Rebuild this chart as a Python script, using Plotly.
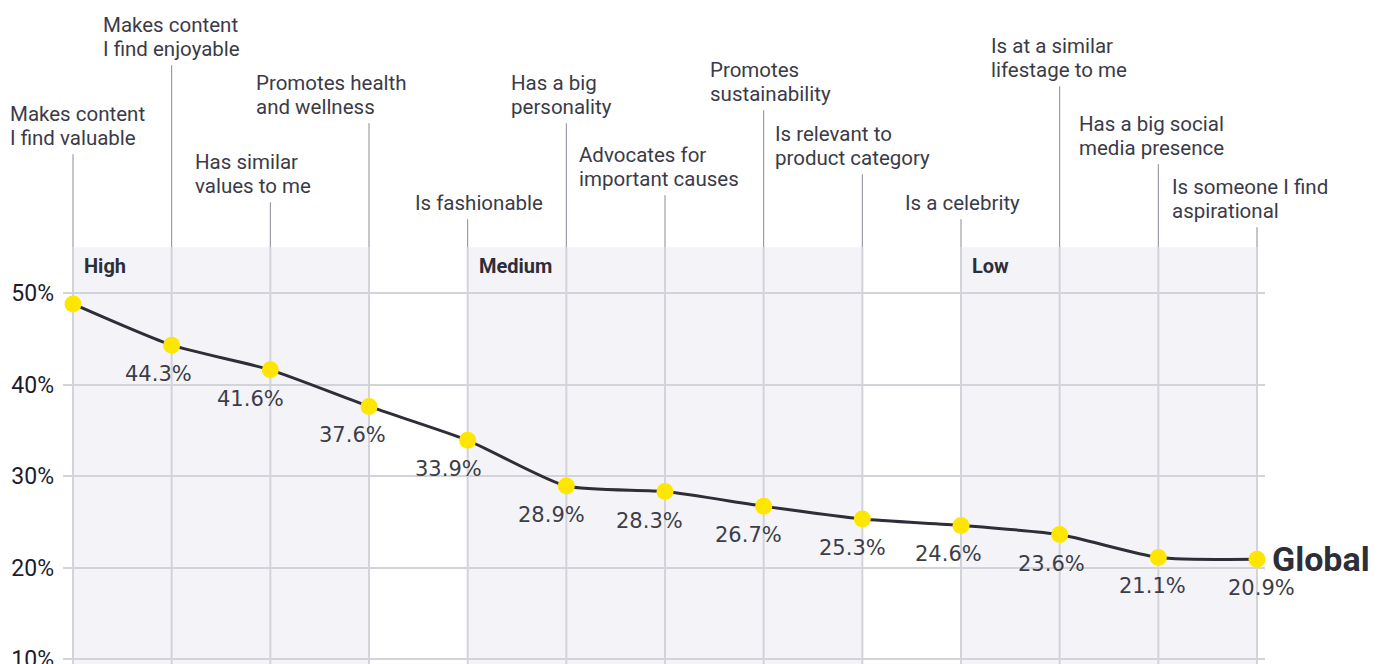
import plotly.graph_objects as go

# Attributes, ordered by share of respondents
attributes = [
    "Makes content<br>I find valuable",
    "Makes content<br>I find enjoyable",
    "Has similar<br>values to me",
    "Promotes health<br>and wellness",
    "Is fashionable",
    "Has a big<br>personality",
    "Advocates for<br>important causes",
    "Promotes<br>sustainability",
    "Is relevant to<br>product category",
    "Is a celebrity",
    "Is at a similar<br>lifestage to me",
    "Has a big social<br>media presence",
    "Is someone I find<br>aspirational",
]
global_share = [48.8, 44.3, 41.6, 37.6, 33.9, 28.9, 28.3, 26.7, 25.3, 24.6, 23.6, 21.1, 20.9]

tier_names = ["High", "Medium", "Low"]
tier_first = [0, 4, 9]
tier_last = [3, 8, 12]

y_ticks = [10, 20, 30, 40, 50]

# ---- layout constants ----
W, H = 1390, 664
PX_PER_PCT = 9.15
Y_MIN, Y_MAX = 9.454, 82.02
BAND_TOP = 55
X_MIN, X_MAX = -0.1014, 12.081
LINE_GAP = 24  # px between label lines

# leader line length above the band (px) and label x offset (px)
leader_px = [93, 182, 45, 124, 28, 124, 52, 137, 73, 28, 161, 83, 20]
label_dx = [-65, -71, -77, -115, -55, -57, -88, -56, -89, -58, -71, -81, -87]
value_dx = [0, -13, -20, -17, -19, -15, -16, -15, -10, -13, -8, -6, 4]

INK = "#2e2e38"
TEXT = "#3b3b48"
GRID = "#d3d3da"
BAND = "#f4f4f8"
YELLOW = "#ffe600"

fig = go.Figure()

fig.add_trace(go.Scatter(
    x=list(range(len(global_share))),
    y=global_share,
    mode="lines+markers",
    line=dict(color=INK, width=3, shape="spline", smoothing=0.6),
    marker=dict(color=YELLOW, size=17, line=dict(width=0)),
    hoverinfo="skip",
    showlegend=False,
    cliponaxis=False,
))

shapes = []
annotations = []

# shaded tier bands
for name, a, b in zip(tier_names, tier_first, tier_last):
    shapes.append(dict(type="rect", xref="x", yref="y", x0=a, x1=b,
                       y0=Y_MIN, y1=BAND_TOP, fillcolor=BAND,
                       line=dict(width=0), layer="below"))
    annotations.append(dict(x=a, y=BAND_TOP, xref="x", yref="y",
                            text="<b>%s</b>" % name, showarrow=False,
                            xanchor="left", yanchor="top", xshift=9, yshift=-5,
                            font=dict(family="Roboto", size=20, color=INK)))

# vertical grid lines, leader lines and attribute labels
for i, label in enumerate(attributes):
    shapes.append(dict(type="line", xref="x", yref="y", x0=i, x1=i,
                       y0=Y_MIN, y1=BAND_TOP, line=dict(color=GRID, width=2),
                       layer="below"))
    top = BAND_TOP + leader_px[i] / PX_PER_PCT
    shapes.append(dict(type="line", xref="x", yref="y", x0=i, x1=i,
                       y0=BAND_TOP, y1=top, line=dict(color="#8a8a94", width=1),
                       layer="below"))
    lines = label.split("<br>")
    for k, part in enumerate(reversed(lines)):
        annotations.append(dict(x=i, y=top, xref="x", yref="y", text=part,
                                showarrow=False, xanchor="left", yanchor="bottom",
                                align="left", xshift=label_dx[i],
                                yshift=2 + k * LINE_GAP,
                                font=dict(family="Roboto", size=20.5, color=TEXT)))

# value labels
for i, v in enumerate(global_share):
    if i == 0:
        continue
    annotations.append(dict(x=i, y=v, xref="x", yref="y", text="%.1f%%" % v,
                            showarrow=False, xanchor="center", yanchor="middle",
                            xshift=value_dx[i], yshift=-29,
                            font=dict(family="DejaVu Sans", size=21, color="#3d3d48")))

# series label
annotations.append(dict(x=len(global_share) - 1, y=global_share[-1], xref="x", yref="y",
                        text="<b>Global</b>", showarrow=False, xanchor="left",
                        yanchor="middle", xshift=13,
                        font=dict(family="Roboto", size=34, color=INK)))

fig.update_layout(
    width=W, height=H,
    margin=dict(l=63, r=W - 1265, t=0, b=0),
    paper_bgcolor="white", plot_bgcolor="white",
    shapes=shapes, annotations=annotations,
    xaxis=dict(range=[X_MIN, X_MAX], showgrid=False, zeroline=False,
               showticklabels=False, showline=False, fixedrange=True,
               automargin=False),
    yaxis=dict(range=[Y_MIN, Y_MAX], tickvals=y_ticks,
               ticktext=["%d%%" % t for t in y_ticks],
               showgrid=True, gridcolor=GRID, gridwidth=2, zeroline=False,
               showline=False, ticks="", ticklabelstandoff=8,
               ticklabeloverflow="allow", automargin=False,
               tickfont=dict(family="Roboto", size=23, color="#1c1c2c"),
               fixedrange=True),
    showlegend=False,
)

fig.write_html("out.html", config={"displayModeBar": False})
